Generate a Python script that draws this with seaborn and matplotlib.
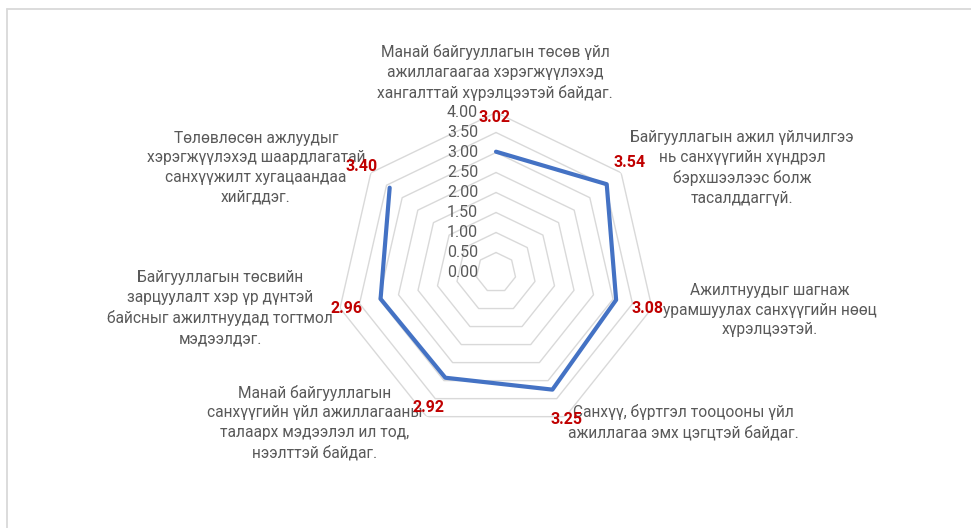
import numpy as np
import pandas as pd
import seaborn as sns
import matplotlib
matplotlib.use("Agg")
import matplotlib.pyplot as plt
from matplotlib.lines import Line2D

# data
categories = [
    "Манай байгууллагын төсөв үйл\nажиллагаагаа хэрэгжүүлэхэд\nхангалттай хүрэлцээтэй байдаг.",
    "Байгууллагын ажил үйлчилгээ\nнь санхүүгийн хүндрэл\nбэрхшээлээс болж\nтасалддаггүй.",
    "Ажилтнуудыг шагнаж\nурамшуулах санхүүгийн нөөц\nхүрэлцээтэй.",
    "Санхүү, бүртгэл тооцооны үйл\nажиллагаа эмх цэгцтэй байдаг.",
    "Манай байгууллагын\nсанхүүгийн үйл ажиллагааны\nталаарх мэдээлэл ил тод,\nнээлттэй байдаг.",
    "Байгууллагын төсвийн\nзарцуулалт хэр үр дүнтэй\nбайсныг ажилтнуудад тогтмол\nмэдээлдэг.",
    "Төлөвлөсөн ажлуудыг\nхэрэгжүүлэхэд шаардлагатай\nсанхүүжилт хугацаандаа\nхийгддэг.",
]
scores = [3.02, 3.54, 3.08, 3.25, 2.92, 2.96, 3.40]
levels = [0.0, 0.5, 1.0, 1.5, 2.0, 2.5, 3.0, 3.5, 4.0]

# label offsets in pixels from the outer ring corner
cat_offsets = [(-1, 40), (121, 5), (118, -2), (118, -6), (-112, -6), (-120, 0), (-115, 5)]
val_offsets = [(-2, -5), (8, 10), (-4, 0), (1, -3), (2, 9), (6, 0), (-9, 6)]

sns.set_theme(style="white")
plt.rcParams["font.family"] = ["Roboto", "DejaVu Sans"]

n = len(categories)
theta = [i * 2 * np.pi / n for i in range(n)]
df = pd.DataFrame({"theta": theta + [theta[0]], "score": scores + [scores[0]]})

fig = plt.figure(figsize=(9.71, 5.28), dpi=100)
fig.patch.set_facecolor("white")
ax = fig.add_axes([0.34604, 0.18087, 0.32956, 0.60606], projection="polar")
ax.set_theta_offset(np.pi / 2)
ax.set_theta_direction(-1)
ax.set_facecolor("none")

# heptagon rings
for lv in levels[1:]:
    ax.plot(theta + [theta[0]], [lv] * (n + 1), color="#D9D9D9", lw=1.0, zorder=1)

sns.lineplot(data=df, x="theta", y="score", sort=False, color="#4472C4",
             linewidth=3.0, ax=ax, zorder=3)

ax.set_ylim(0, 4)
ax.grid(False)
ax.spines["polar"].set_visible(False)
ax.set_xticks([])
ax.set_yticks([])
ax.set_xlabel("")
ax.set_ylabel("")

for lv in levels:
    ax.annotate(f"{lv:.2f}", xy=(0, lv), xytext=(-18, 0), textcoords="offset pixels",
                ha="right", va="center", fontsize=11.5, color="#595959", zorder=4)

for i in range(n):
    dx, dy = cat_offsets[i]
    ax.annotate(categories[i], xy=(theta[i], 4), xytext=(dx, dy), textcoords="offset pixels",
                ha="center", va="center", multialignment="center", fontsize=11.2,
                color="#595959", linespacing=1.4, zorder=4, annotation_clip=False)
    dx, dy = val_offsets[i]
    ax.annotate(f"{scores[i]:.2f}", xy=(theta[i], 4), xytext=(dx, dy), textcoords="offset pixels",
                ha="center", va="center", fontsize=11.5, fontweight="bold",
                color="#C00000", zorder=5, annotation_clip=False)

# chart area border (only top and left visible in the crop)
fig.add_artist(Line2D([7 / 971, 1.0], [1 - 8.5 / 528, 1 - 8.5 / 528], color="#D9D9D9", lw=1.3))
fig.add_artist(Line2D([7 / 971, 7 / 971], [0.0, 1 - 8.5 / 528], color="#D9D9D9", lw=1.3))

fig.savefig("out.png", dpi=100, facecolor="white")
